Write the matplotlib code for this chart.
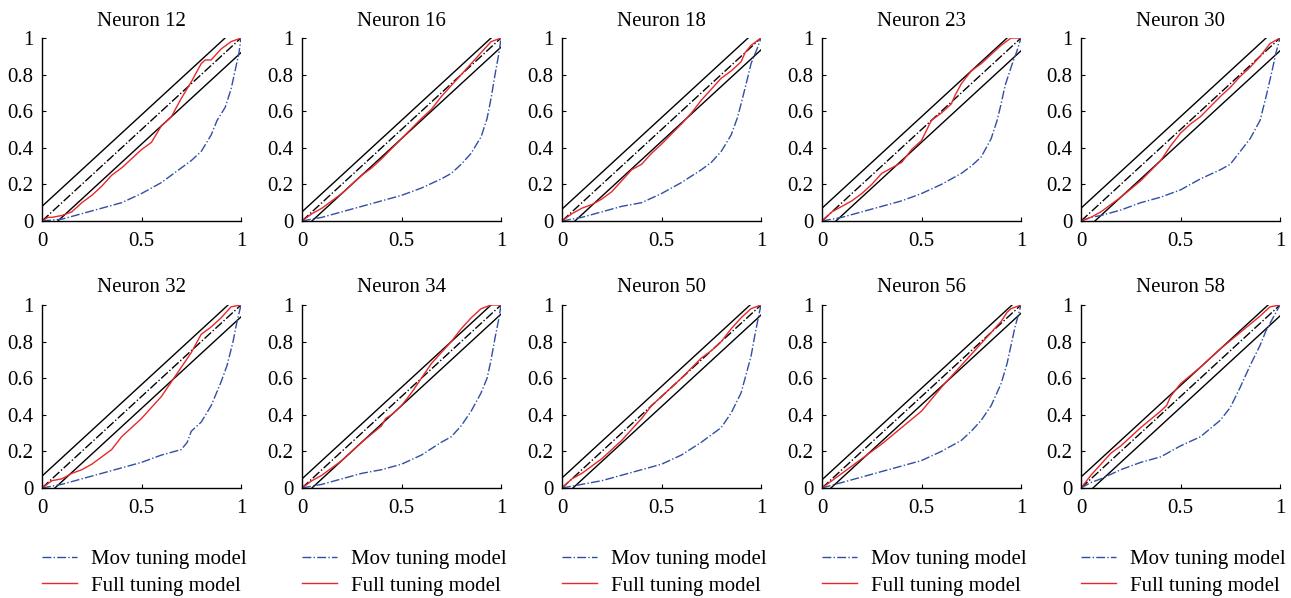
import matplotlib
matplotlib.use("Agg")
import matplotlib.pyplot as plt

plt.rcParams['font.family'] = ['Liberation Serif', 'DejaVu Serif']

neurons = [12, 16, 18, 23, 30, 32, 34, 50, 56, 58]
bounds = [0.08, 0.05, 0.065, 0.07, 0.07, 0.065, 0.05, 0.055, 0.045, 0.06]

# Full tuning model KS curves (x, y)
full_x = [
    [0, 0.03, 0.05, 0.1, 0.15, 0.2, 0.25, 0.3, 0.35, 0.4, 0.45, 0.5, 0.55, 0.6, 0.65, 0.7, 0.75, 0.8, 0.82, 0.85, 0.9, 0.95, 1],
    [0, 0.05, 0.1, 0.2, 0.3, 0.35, 0.4, 0.5, 0.6, 0.65, 0.7, 0.8, 0.85, 0.9, 0.95, 1],
    [0, 0.05, 0.1, 0.15, 0.2, 0.25, 0.3, 0.35, 0.4, 0.45, 0.5, 0.6, 0.65, 0.7, 0.75, 0.8, 0.85, 0.9, 0.92, 0.95, 1],
    [0, 0.05, 0.1, 0.15, 0.2, 0.25, 0.3, 0.35, 0.4, 0.45, 0.5, 0.55, 0.6, 0.65, 0.67, 0.7, 0.75, 0.8, 0.85, 0.9, 0.95, 1],
    [0, 0.05, 0.1, 0.2, 0.3, 0.4, 0.45, 0.5, 0.55, 0.6, 0.7, 0.75, 0.8, 0.85, 0.9, 0.95, 1],
    [0, 0.05, 0.1, 0.15, 0.2, 0.25, 0.3, 0.35, 0.4, 0.45, 0.5, 0.55, 0.6, 0.65, 0.7, 0.75, 0.8, 0.85, 0.9, 0.95, 1],
    [0, 0.05, 0.1, 0.2, 0.3, 0.4, 0.42, 0.45, 0.5, 0.55, 0.6, 0.65, 0.7, 0.75, 0.8, 0.85, 0.9, 0.95, 1],
    [0, 0.05, 0.1, 0.2, 0.3, 0.4, 0.45, 0.5, 0.55, 0.6, 0.7, 0.75, 0.8, 0.85, 0.9, 0.95, 1],
    [0, 0.05, 0.1, 0.2, 0.3, 0.4, 0.5, 0.6, 0.7, 0.8, 0.9, 0.93, 0.95, 1],
    [0, 0.05, 0.1, 0.15, 0.2, 0.3, 0.4, 0.43, 0.45, 0.5, 0.6, 0.7, 0.8, 0.9, 0.95, 1],
]
full_y = [
    [0, 0.02, 0.02, 0.03, 0.05, 0.1, 0.14, 0.19, 0.25, 0.29, 0.34, 0.39, 0.43, 0.52, 0.57, 0.67, 0.76, 0.86, 0.88, 0.88, 0.94, 0.98, 1],
    [0, 0.04, 0.07, 0.15, 0.25, 0.29, 0.34, 0.45, 0.56, 0.61, 0.68, 0.8, 0.86, 0.92, 0.98, 1],
    [0, 0.04, 0.07, 0.09, 0.12, 0.16, 0.22, 0.28, 0.31, 0.37, 0.42, 0.53, 0.59, 0.66, 0.72, 0.78, 0.82, 0.87, 0.92, 0.96, 1],
    [0, 0.05, 0.08, 0.11, 0.15, 0.2, 0.26, 0.29, 0.32, 0.39, 0.44, 0.55, 0.59, 0.64, 0.69, 0.75, 0.82, 0.86, 0.91, 0.96, 1, 1],
    [0, 0.02, 0.05, 0.13, 0.22, 0.33, 0.41, 0.48, 0.53, 0.57, 0.68, 0.73, 0.79, 0.84, 0.9, 0.97, 1],
    [0, 0.04, 0.05, 0.08, 0.1, 0.13, 0.17, 0.21, 0.28, 0.33, 0.38, 0.44, 0.5, 0.58, 0.66, 0.74, 0.84, 0.88, 0.93, 0.99, 1],
    [0, 0.04, 0.07, 0.15, 0.25, 0.34, 0.38, 0.4, 0.45, 0.52, 0.6, 0.68, 0.74, 0.8, 0.87, 0.93, 0.98, 1, 1],
    [0, 0.05, 0.08, 0.16, 0.26, 0.38, 0.45, 0.5, 0.55, 0.6, 0.71, 0.75, 0.8, 0.87, 0.93, 0.98, 1],
    [0, 0.04, 0.08, 0.16, 0.24, 0.33, 0.42, 0.55, 0.67, 0.79, 0.91, 0.96, 0.98, 1],
    [0, 0.07, 0.13, 0.19, 0.23, 0.33, 0.42, 0.45, 0.5, 0.57, 0.66, 0.76, 0.85, 0.94, 0.99, 1],
]

# Mov tuning model KS curves
mov_x = [
    [0, 0.1, 0.2, 0.3, 0.4, 0.5, 0.6, 0.65, 0.7, 0.75, 0.8, 0.85, 0.88, 0.92, 0.95, 0.97, 0.99, 1],
    [0, 0.1, 0.2, 0.3, 0.4, 0.5, 0.6, 0.7, 0.75, 0.8, 0.85, 0.9, 0.93, 0.95, 0.97, 0.99, 1],
    [0, 0.1, 0.2, 0.3, 0.4, 0.5, 0.6, 0.7, 0.75, 0.8, 0.85, 0.88, 0.9, 0.93, 0.95, 0.98, 1],
    [0, 0.1, 0.2, 0.3, 0.4, 0.5, 0.6, 0.7, 0.75, 0.8, 0.85, 0.88, 0.9, 0.92, 0.95, 0.98, 1],
    [0, 0.05, 0.1, 0.2, 0.3, 0.4, 0.5, 0.6, 0.7, 0.75, 0.8, 0.85, 0.9, 0.93, 0.96, 0.98, 1],
    [0, 0.1, 0.2, 0.3, 0.4, 0.5, 0.6, 0.7, 0.73, 0.75, 0.8, 0.85, 0.9, 0.93, 0.96, 0.98, 1],
    [0, 0.1, 0.2, 0.3, 0.4, 0.5, 0.6, 0.7, 0.75, 0.8, 0.85, 0.9, 0.93, 0.95, 0.97, 0.99, 1],
    [0, 0.1, 0.2, 0.3, 0.4, 0.5, 0.6, 0.7, 0.75, 0.8, 0.85, 0.9, 0.92, 0.95, 0.97, 0.99, 1],
    [0, 0.1, 0.2, 0.3, 0.4, 0.5, 0.6, 0.7, 0.75, 0.8, 0.85, 0.9, 0.93, 0.95, 0.97, 0.99, 1],
    [0, 0.05, 0.1, 0.2, 0.3, 0.4, 0.5, 0.6, 0.7, 0.75, 0.8, 0.85, 0.9, 0.93, 0.96, 1],
]
mov_y = [
    [0, 0.01, 0.04, 0.07, 0.1, 0.15, 0.21, 0.25, 0.29, 0.33, 0.38, 0.47, 0.55, 0.62, 0.72, 0.82, 0.92, 1],
    [0, 0.02, 0.05, 0.08, 0.11, 0.14, 0.18, 0.23, 0.26, 0.31, 0.37, 0.46, 0.56, 0.67, 0.8, 0.92, 1],
    [0, 0.02, 0.05, 0.08, 0.1, 0.15, 0.21, 0.28, 0.32, 0.38, 0.47, 0.56, 0.64, 0.77, 0.86, 0.94, 1],
    [0, 0.02, 0.05, 0.08, 0.11, 0.15, 0.2, 0.26, 0.3, 0.35, 0.45, 0.55, 0.64, 0.74, 0.84, 0.93, 1],
    [0, 0.02, 0.03, 0.06, 0.1, 0.13, 0.17, 0.23, 0.28, 0.31, 0.38, 0.45, 0.55, 0.68, 0.82, 0.92, 1],
    [0, 0.02, 0.05, 0.08, 0.11, 0.14, 0.18, 0.21, 0.25, 0.31, 0.36, 0.45, 0.58, 0.67, 0.8, 0.91, 1],
    [0, 0.02, 0.05, 0.08, 0.1, 0.13, 0.18, 0.25, 0.28, 0.34, 0.42, 0.52, 0.6, 0.7, 0.82, 0.93, 1],
    [0, 0.02, 0.04, 0.07, 0.1, 0.13, 0.18, 0.25, 0.29, 0.33, 0.41, 0.52, 0.6, 0.72, 0.84, 0.95, 1],
    [0, 0.03, 0.06, 0.09, 0.12, 0.15, 0.2, 0.26, 0.31, 0.37, 0.45, 0.57, 0.68, 0.78, 0.88, 0.96, 1],
    [0, 0.03, 0.05, 0.1, 0.14, 0.17, 0.23, 0.28, 0.37, 0.44, 0.55, 0.67, 0.78, 0.86, 0.92, 1],
]

W, H = 1291, 598
fig = plt.figure(figsize=(W / 100, H / 100), dpi=100)

col_left = [42, 302, 562, 822, 1081]
row_top = [38, 305]
ax_w, ax_h = 199, 183

blue = '#2f4fa3'
red = '#e8282a'
fs = 15

for i, n in enumerate(neurons):
    r, c = divmod(i, 5)
    ax = fig.add_axes([col_left[c] / W, 1 - (row_top[r] + ax_h) / H, ax_w / W, ax_h / H])
    d = bounds[i]
    ax.plot([0, 1], [0, 1], color='black', lw=1.0, ls='-.')
    ax.plot([0, 1 - d], [d, 1], color='black', lw=1.0)
    ax.plot([d, 1], [0, 1 - d], color='black', lw=1.0)
    ax.plot(mov_x[i], mov_y[i], color=blue, lw=1.0, ls='-.', label='Mov tuning model')
    ax.plot(full_x[i], full_y[i], color=red, lw=1.0, label='Full tuning model')
    ax.set_xlim(0, 1)
    ax.set_ylim(0, 1)
    ax.set_xticks([0, 0.5, 1])
    ax.set_xticklabels(['0', '0.5', '1'])
    ax.set_yticks([0, 0.2, 0.4, 0.6, 0.8, 1])
    ax.set_yticklabels(['0', '0.2', '0.4', '0.6', '0.8', '1'])
    ax.tick_params(direction='in', length=3, width=0.8, labelsize=fs, pad=6)
    ax.tick_params(axis='x', pad=8)
    for s in ['top', 'right']:
        ax.spines[s].set_visible(False)
    for s in ['left', 'bottom']:
        ax.spines[s].set_linewidth(1.0)
    ax.set_title('Neuron %d' % n, fontsize=fs, pad=9)
    if r == 1:
        h, l = ax.get_legend_handles_labels()
        ax.legend(h, l, loc='upper left', bbox_to_anchor=(0, -0.335), frameon=False,
                  fontsize=fs, handlelength=1.7, handletextpad=0.65, labelspacing=0.35,
                  borderaxespad=0, borderpad=0)

fig.savefig('out.png', dpi=100)
